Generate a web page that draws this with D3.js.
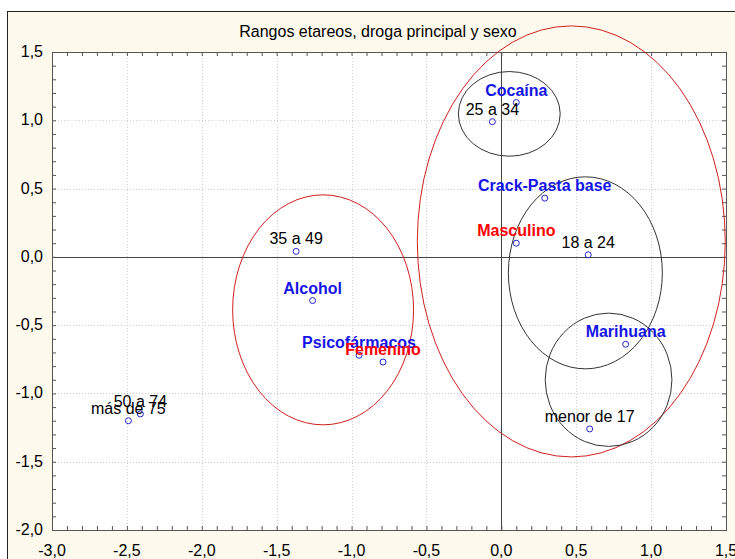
<!DOCTYPE html>
<html>
<head>
<meta charset="utf-8">
<script src="https://cdn.jsdelivr.net/npm/d3@7"></script>
<style>
    body { margin: 0; background: #ffffff; }
    text { font-family: Arial, "Liberation Sans", sans-serif; }
</style>
</head>
<body>
<div id="chart"></div>
<script>
// point labels and coordinates
const labels = ['Cocaína', '25 a 34', 'Crack-Pasta base', 'Masculino', '18 a 24', '35 a 49', 'Alcohol',
    'Psicofármacos', 'Femenino', '50 a 74', 'más de 75', 'Marihuana', 'menor de 17'];
const kinds = ['droga', 'edad', 'droga', 'sexo', 'edad', 'edad', 'droga',
    'droga', 'sexo', 'edad', 'edad', 'droga', 'edad'];
const xValues = [0.10, -0.06, 0.29, 0.10, 0.58, -1.37, -1.26, -0.95, -0.79, -2.41, -2.49, 0.83, 0.59];
const yValues = [1.13, 0.99, 0.43, 0.10, 0.015, 0.04, -0.32, -0.72, -0.77, -1.15, -1.20, -0.64, -1.26];

// ellipses drawn around the groups
const ellipseCx = [0.467, -1.19, 0.053, 0.561, 0.716];
const ellipseCy = [0.113, -0.388, 1.047, -0.117, -0.90];
const ellipseRx = [1.028, 0.604, 0.34, 0.514, 0.423];
const ellipseRy = [1.578, 0.842, 0.31, 0.703, 0.488];
const ellipseKind = ['sexo', 'sexo', 'grupo', 'grupo', 'grupo'];

const xTicks = [-3.0, -2.5, -2.0, -1.5, -1.0, -0.5, 0.0, 0.5, 1.0, 1.5];
const yTicks = [-2.0, -1.5, -1.0, -0.5, 0.0, 0.5, 1.0, 1.5];

const title = 'Rangos etareos, droga principal y sexo';

const colors = {droga: '#1414e6', edad: '#000000', sexo: '#ff0000'};

let width = 735, height = 559;
let margin = {top: 52, right: 9, bottom: 29, left: 52};

let svg = d3.select("#chart").append("svg")
    .attr("width", width)
    .attr("height", height);

// outer frame
svg.append("rect")
    .attr("x", 7.5).attr("y", 11.5)
    .attr("width", width).attr("height", height)
    .attr("fill", "#fdf9ec")
    .attr("stroke", "#222");

let x = d3.scaleLinear().domain([-3, 1.5]).range([margin.left, width - margin.right]);
let y = d3.scaleLinear().domain([-2, 1.5]).range([height - margin.bottom, margin.top]);

let locale = d3.formatLocale({decimal: ",", thousands: ".", grouping: [3], currency: ["", ""], minus: "-"});
let fmt = locale.format(".1f");

// plot area
svg.append("rect")
    .attr("x", x(-3)).attr("y", y(1.5))
    .attr("width", x(1.5) - x(-3)).attr("height", y(-2) - y(1.5))
    .attr("fill", "#ffffff");

// dotted grid
svg.append("g").selectAll("line")
    .data(xTicks.slice(1, -1))
    .join("line")
    .attr("x1", d => Math.round(x(d)) + 0.5).attr("x2", d => Math.round(x(d)) + 0.5)
    .attr("y1", y(1.5)).attr("y2", y(-2))
    .attr("stroke", "#cfcfcf").attr("stroke-dasharray", "1,2");

svg.append("g").selectAll("line")
    .data(yTicks.slice(1, -1))
    .join("line")
    .attr("y1", d => Math.round(y(d)) + 0.5).attr("y2", d => Math.round(y(d)) + 0.5)
    .attr("x1", x(-3)).attr("x2", x(1.5))
    .attr("stroke", "#cfcfcf").attr("stroke-dasharray", "1,2");

// zero lines
svg.append("line")
    .attr("x1", Math.round(x(0)) + 0.5).attr("x2", Math.round(x(0)) + 0.5)
    .attr("y1", y(1.5)).attr("y2", y(-2))
    .attr("stroke", "#444");
svg.append("line")
    .attr("y1", Math.round(y(0)) + 0.5).attr("y2", Math.round(y(0)) + 0.5)
    .attr("x1", x(-3)).attr("x2", x(1.5))
    .attr("stroke", "#444");

// axes, minor ticks inward every 0.1
let xMinor = d3.range(-30, 16).map(d => d / 10);
let yMinor = d3.range(-20, 16).map(d => d / 10);

let xAxisBottom = d3.axisBottom(x).tickValues(xMinor).tickSize(-4).tickFormat("");
let xAxisTop = d3.axisTop(x).tickValues(xMinor).tickSize(-4).tickFormat("");
let yAxisLeft = d3.axisLeft(y).tickValues(yMinor).tickSize(-4).tickFormat("");
let yAxisRight = d3.axisRight(y).tickValues(yMinor).tickSize(-4).tickFormat("");

svg.append("g").attr("transform", `translate(0, ${y(-2)})`).call(xAxisBottom);
svg.append("g").attr("transform", `translate(0, ${y(1.5)})`).call(xAxisTop);
svg.append("g").attr("transform", `translate(${x(-3)}, 0)`).call(yAxisLeft);
svg.append("g").attr("transform", `translate(${x(1.5)}, 0)`).call(yAxisRight);
svg.selectAll(".domain").attr("stroke", "#555");
svg.selectAll(".tick line").attr("stroke", "#555");

// tick labels
svg.append("g").selectAll("text")
    .data(xTicks)
    .join("text")
    .attr("x", d => x(d))
    .attr("y", y(-2) + 26)
    .attr("text-anchor", "middle")
    .attr("font-size", 16)
    .text(d => fmt(d));

svg.append("g").selectAll("text")
    .data(yTicks)
    .join("text")
    .attr("x", x(-3) - 9)
    .attr("y", d => y(d) + 5)
    .attr("text-anchor", "end")
    .attr("font-size", 16)
    .text(d => fmt(d));

// title
svg.append("text")
    .attr("x", 378)
    .attr("y", 37)
    .attr("text-anchor", "middle")
    .attr("font-size", 16)
    .text(title);

// ellipses
svg.append("g").selectAll("ellipse")
    .data(ellipseCx)
    .join("ellipse")
    .attr("cx", d => x(d))
    .attr("cy", (d, i) => y(ellipseCy[i]))
    .attr("rx", (d, i) => x(ellipseRx[i]) - x(0))
    .attr("ry", (d, i) => y(0) - y(ellipseRy[i]))
    .attr("fill", "none")
    .attr("stroke", (d, i) => ellipseKind[i] === 'sexo' ? "#d02020" : "#333333")
    .attr("stroke-width", 1);

// points
svg.append("g").selectAll("circle")
    .data(labels)
    .join("circle")
    .attr("cx", (d, i) => x(xValues[i]))
    .attr("cy", (d, i) => y(yValues[i]))
    .attr("r", 3)
    .attr("fill", "none")
    .attr("stroke", "#2424cc");

// point labels
svg.append("g").selectAll("text")
    .data(labels)
    .join("text")
    .attr("x", (d, i) => x(xValues[i]))
    .attr("y", (d, i) => y(yValues[i]) - 7)
    .attr("text-anchor", "middle")
    .attr("font-size", 16)
    .attr("font-weight", (d, i) => kinds[i] === 'edad' ? "normal" : "bold")
    .attr("fill", (d, i) => colors[kinds[i]])
    .text(d => d);
</script>
</body>
</html>
